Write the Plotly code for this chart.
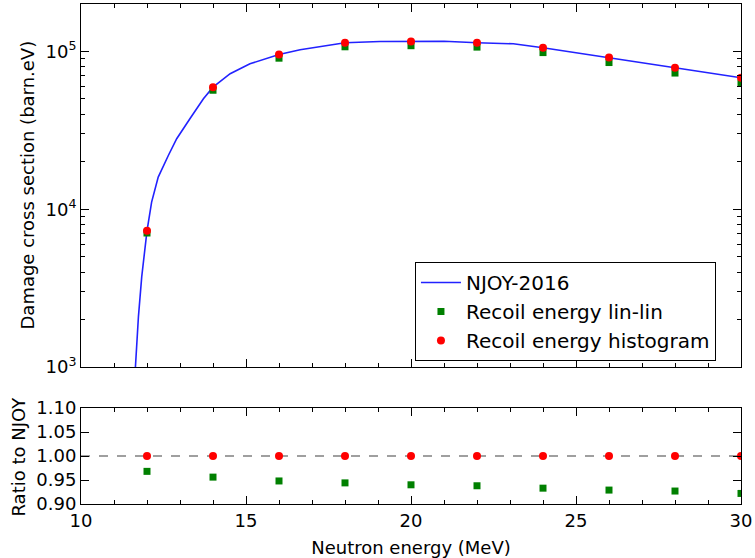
import plotly.graph_objects as go
from plotly.subplots import make_subplots

# ---- data ----
njoy_energy = [11.5, 11.64, 11.74, 11.84, 12.0, 12.14, 12.34, 12.65, 12.90, 13.30, 13.71, 14.0,
               14.52, 15.12, 15.42, 16.0, 16.64, 18.0, 19.06, 20.0, 21.0, 22.0, 23.1, 24.0,
               26.0, 28.0, 30.0]
njoy_xs = [300, 1000, 2080, 3730, 7300, 11100, 16000, 22000, 28000, 37500, 50100, 59400,
           72300, 83600, 87700, 95700, 102500, 113500, 115700, 115700, 116000, 113600,
           111900, 105500, 91600, 78800, 68200]

energies = [12, 14, 16, 18, 20, 22, 24, 26, 28, 30]
linlin_xs = [7070, 56800, 90700, 107100, 108800, 106600, 98400, 85100, 73000, 62900]
hist_xs = [7300, 59400, 95700, 113500, 115700, 113600, 105500, 91600, 78800, 68200]
linlin_ratio = [0.968, 0.956, 0.948, 0.944, 0.940, 0.938, 0.933, 0.929, 0.927, 0.922]
hist_ratio = [1.0, 1.0, 1.0, 1.0, 1.0, 1.0, 1.0, 1.0, 1.0, 1.0]

log_major = [1e3, 1e4, 1e5]
log_major_text = ["10<sup>3</sup>", "10<sup>4</sup>", "10<sup>5</sup>"]
ratio_ticks = [0.90, 0.95, 1.00, 1.05, 1.10]
ratio_tick_text = ["0.90", "0.95", "1.00", "1.05", "1.10"]
x_ticks = [10, 15, 20, 25, 30]

FONT = "DejaVu Sans"
TICK = 18
TITLE = 18

fig = make_subplots(rows=2, cols=1, shared_xaxes=False)

fig.add_trace(go.Scatter(x=njoy_energy, y=njoy_xs, mode="lines", name="NJOY-2016",
                         line=dict(color="#2222ff", width=1.6)),
              row=1, col=1)
fig.add_trace(go.Scatter(x=energies, y=linlin_xs, mode="markers", name="Recoil energy lin-lin",
                         marker=dict(symbol="square", color="green", size=7, line=dict(width=0))),
              row=1, col=1)
fig.add_trace(go.Scatter(x=energies, y=hist_xs, mode="markers", name="Recoil energy histogram",
                         marker=dict(symbol="circle", color="red", size=8, line=dict(width=0))),
              row=1, col=1)

fig.add_trace(go.Scatter(x=energies, y=linlin_ratio, mode="markers", showlegend=False,
                         marker=dict(symbol="square", color="green", size=7, line=dict(width=0))),
              row=2, col=1)
fig.add_trace(go.Scatter(x=energies, y=hist_ratio, mode="markers", showlegend=False,
                         marker=dict(symbol="circle", color="red", size=8, line=dict(width=0))),
              row=2, col=1)

fig.add_hline(y=1.0, line=dict(color="gray", width=1.3, dash="dash"), row=2, col=1, layer="below")

minor_log = [m * 10 ** e for e in (3, 4) for m in range(2, 10)] + [2e5]

axis_common = dict(showline=True, linecolor="black", linewidth=1, mirror="ticks",
                   ticks="inside", tickcolor="black", showgrid=False, zeroline=False,
                   automargin=False,
                   tickfont=dict(family=FONT, size=TICK, color="black"))

fig.update_xaxes(range=[10, 30], tickvals=x_ticks, ticklen=8,
                 minor=dict(dtick=1, tick0=10, ticks="inside", ticklen=4, tickcolor="black"),
                 **axis_common)
fig.update_xaxes(showticklabels=False, row=1, col=1)
fig.update_xaxes(title=dict(text="Neutron energy (MeV)", font=dict(family=FONT, size=TITLE, color="black")),
                 row=2, col=1)

fig.update_yaxes(type="log", range=[3, 5.30103], tickvals=log_major, ticktext=log_major_text,
                 ticklen=8,
                 minor=dict(tickmode="array", tickvals=minor_log, ticks="inside", ticklen=4,
                            tickcolor="black"),
                 row=1, col=1, **axis_common)
fig.update_yaxes(range=[0.90, 1.10], tickvals=ratio_ticks, ticktext=ratio_tick_text, ticklen=8,
                 row=2, col=1, **axis_common)

# y-axis titles placed as rotated annotations
fig.add_annotation(text="Damage cross section (barn.eV)", textangle=-90, showarrow=False,
                   xref="paper", yref="paper", x=-0.0818, y=0.637, xanchor="center", yanchor="middle",
                   font=dict(family=FONT, size=TITLE, color="black"))
fig.add_annotation(text="Ratio to NJOY", textangle=-90, showarrow=False,
                   xref="paper", yref="paper", x=-0.0947, y=0.096, xanchor="center", yanchor="middle",
                   font=dict(family=FONT, size=TITLE, color="black"))

fig.update_layout(
    width=755, height=558,
    margin=dict(l=81, r=14, t=4, b=54),
    paper_bgcolor="white", plot_bgcolor="white",
    font=dict(family=FONT, color="black"),
    xaxis=dict(domain=[0, 1]), xaxis2=dict(domain=[0, 1]),
    yaxis=dict(domain=[0.274, 1.0]), yaxis2=dict(domain=[0.0, 0.192]),
    legend=dict(x=0.506, y=0.484, xanchor="left", yanchor="top",
                bgcolor="white", bordercolor="black", borderwidth=1,
                font=dict(family=FONT, size=20, color="black"),
                itemwidth=40),
    showlegend=True,
)

fig.write_html("out.html", config={"displayModeBar": False},
               post_script="document.body.style.margin='0px';")
